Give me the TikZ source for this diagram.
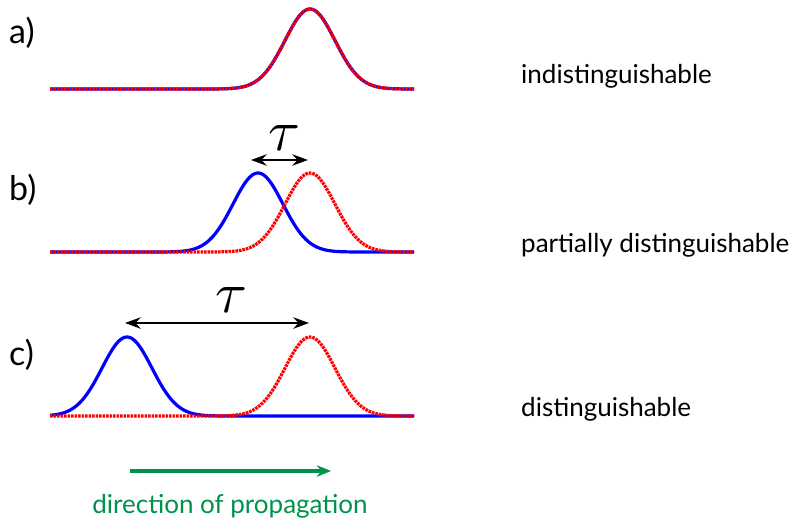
\documentclass[tikz,border=0pt]{standalone}
\usepackage{fontspec}
\setmainfont{Lato}
\usetikzlibrary{arrows.meta,positioning}
\definecolor{propgreen}{RGB}{0,146,75}
\newcommand{\pulse}[3]{plot[domain=50:414,samples=200,smooth] (\x,{#1-#2*exp(-((\x-#3)/25)^2/2)})}

\begin{document}
\begin{tikzpicture}[
x=1pt,y=-1pt,
pulseb/.style={draw=blue,line width=3.2pt},
pulser/.style={draw=red,line width=3.2pt,dash pattern=on 2.6pt off 0.9pt},
tag/.style={anchor=west,inner sep=0pt,font=\fontsize{34}{38}\selectfont},
lbl/.style={anchor=west,inner sep=0pt,font=\fontsize{26}{30}\selectfont},
delay/.style={inner sep=0pt},
arr/.style={{Stealth[length=5.5mm,width=4mm]}-{Stealth[length=5.5mm,width=4mm]},line width=2pt},
dirarr/.style={-{Stealth[length=5mm,width=4mm]},line width=3.2pt,propgreen}
]
\useasboundingbox (0,0) rectangle (795,525);
% pulses: baseline, peak height, centre (sigma 25)
% a)
\draw[pulseb] \pulse{89}{80}{310};
\draw[pulser] \pulse{89}{80}{310};
% b)
\draw[pulseb] \pulse{252}{79}{258};
\draw[pulser] \pulse{252}{79}{310};
% c)
\draw[pulseb] \pulse{416}{79}{127};
\draw[pulser] \pulse{416}{79}{310};

\node[tag] (taga) at (9,33) {a)};
\node[tag] (tagb) at (9,190) {b)};
\node[tag] (tagc) at (9,355) {c)};

\node[lbl] (indist) at (521,76) {indistinguishable};
\node[lbl] (partial) at (521,245) {partially distinguishable};
\node[lbl] (dist) at (521,409) {distinguishable};

% delays
\coordinate (tbl) at (251,160);
\coordinate (tbr) at (308,160);
\draw[arr] (tbl) -- (tbr);
\node[delay] (taub) at (284,138) {\scalebox{5.8}{$\tau$}};
\coordinate (tcl) at (125,323);
\coordinate (tcr) at (309,323);
\draw[arr] (tcl) -- (tcr);
\node[delay] (tauc) at (231,300) {\scalebox{5.8}{$\tau$}};

% propagation
\coordinate (pstart) at (130,471);
\coordinate (pend) at (331,471);
\draw[dirarr] (pstart) -- (pend);
\node[font=\fontsize{26}{30}\selectfont,text=propgreen] (prop) at (230,506) {direction of propagation};
\end{tikzpicture}
\end{document}
